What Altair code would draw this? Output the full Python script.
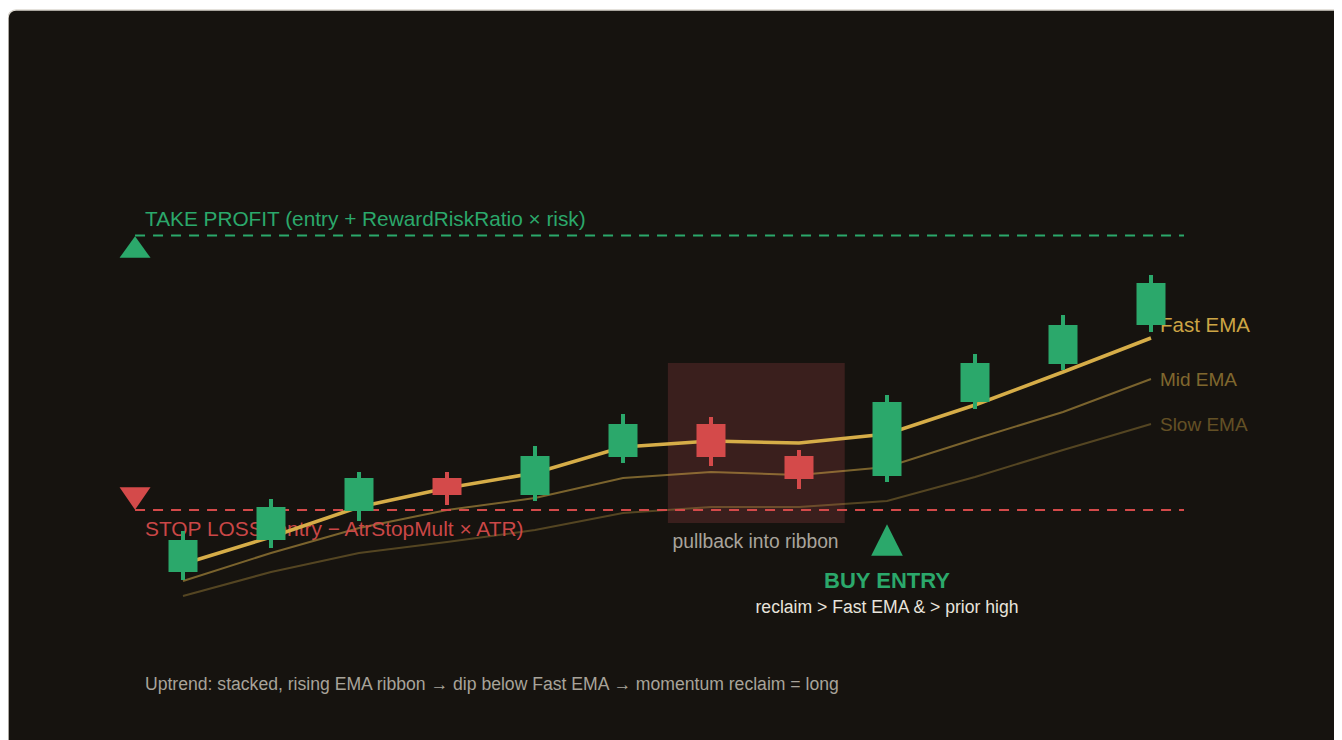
import altair as alt
import pandas as pd

# ---------------- data ----------------
candle_idx = list(range(12))
opens  = [102.8, 106.0, 108.9, 112.2, 110.5, 114.3, 117.6, 114.4, 112.4, 119.8, 123.6, 127.5]
highs  = [106.9, 110.1, 112.8, 112.8, 115.4, 118.6, 118.3, 115.0, 120.5, 124.6, 128.5, 132.5]
lows   = [102.0, 105.2, 107.9, 109.5, 109.9, 113.7, 113.4, 111.1, 111.8, 119.1, 123.0, 126.8]
closes = [106.0, 109.3, 112.2, 110.5, 114.4, 117.6, 114.3, 112.1, 119.8, 123.7, 127.5, 131.7]

fast_ema = [103.6, 106.3, 109.3, 111.2, 112.7, 115.3, 115.9, 115.7, 116.6, 119.5, 122.8, 126.2]
mid_ema  = [101.9, 104.7, 107.2, 109.0, 110.2, 112.2, 112.8, 112.5, 113.3, 116.1, 118.8, 122.1]
slow_ema = [100.4, 102.8, 104.7, 105.8, 107.0, 108.7, 109.3, 109.3, 109.9, 112.3, 115.0, 117.6]

take_profit = 136.45
stop_loss = 109.0
level_span = [-0.545, 11.375]

pullback_x = [5.51, 7.52]
pullback_y = [107.7, 123.7]

entry_idx = 8

tp_text = "TAKE PROFIT (entry + RewardRiskRatio × risk)"
sl_text = "STOP LOSS (entry − AtrStopMult × ATR)"
ema_names = ["Fast EMA", "Mid EMA", "Slow EMA"]
pullback_text = "pullback into ribbon"
buy_title = "BUY ENTRY"
buy_sub = "reclaim > Fast EMA & > prior high"
footer = "Uptrend: stacked, rising EMA ribbon → dip below Fast EMA → momentum reclaim = long"

# ---------------- styling ----------------
BG = "#16130f"
GREEN = "#2ba86b"
RED = "#d44a4a"
GOLD = "#d6ad48"
FONT = "Liberation Sans, Arial, Helvetica, sans-serif"

SVG_W, SVG_H = 1326, 732          # drawn page area
W, H = 1345, 745                  # card (view) size, clipped at the svg edge
PAD = {"left": 0, "top": 2, "right": SVG_W - W, "bottom": SVG_H - 2 - H}

PX_PER_IDX = 88.0
PX_PER_PRICE = 10.0
x_min = -(183 - 8) / PX_PER_IDX
x_max = x_min + W / PX_PER_IDX
y_max = 159.0
y_min = y_max - H / PX_PER_PRICE

xs = alt.Scale(domain=[x_min, x_max], nice=False, zero=False)
ys = alt.Scale(domain=[y_min, y_max], nice=False, zero=False)


def X(f):
    return alt.X(f, type="quantitative", scale=xs, axis=None)


def Y(f):
    return alt.Y(f, type="quantitative", scale=ys, axis=None)


candles = pd.DataFrame({"i": candle_idx, "open": opens, "high": highs,
                        "low": lows, "close": closes})
ema = pd.DataFrame({"i": candle_idx, "fast": fast_ema, "mid": mid_ema, "slow": slow_ema})
zone = pd.DataFrame({"x": [pullback_x[0]], "x2": [pullback_x[1]],
                     "y": [pullback_y[0]], "y2": [pullback_y[1]]})
levels = pd.DataFrame({"x": [level_span[0], level_span[0]], "x2": [level_span[1], level_span[1]],
                       "p": [take_profit, stop_loss], "kind": ["tp", "sl"]})

up = alt.datum.close >= alt.datum.open
candle_color = alt.condition(up, alt.value(GREEN), alt.value(RED))

zone_layer = alt.Chart(zone).mark_rect(color="#3a1f1d").encode(
    x=X("x"), x2=alt.X2("x2"), y=Y("y"), y2=alt.Y2("y2"))

slow_layer = alt.Chart(ema).mark_line(color=GOLD, opacity=0.33, strokeWidth=2).encode(
    x=X("i"), y=Y("slow"), order="i:Q")
mid_layer = alt.Chart(ema).mark_line(color=GOLD, opacity=0.52, strokeWidth=2).encode(
    x=X("i"), y=Y("mid"), order="i:Q")
fast_layer = alt.Chart(ema).mark_line(color=GOLD, strokeWidth=3.5).encode(
    x=X("i"), y=Y("fast"), order="i:Q")

tp_line = alt.Chart(levels).transform_filter(alt.datum.kind == "tp").mark_rule(
    color=GREEN, strokeDash=[10, 8], strokeWidth=2).encode(x=X("x"), x2=alt.X2("x2"), y=Y("p"))
sl_line = alt.Chart(levels).transform_filter(alt.datum.kind == "sl").mark_rule(
    color=RED, strokeDash=[10, 8], strokeWidth=2).encode(x=X("x"), x2=alt.X2("x2"), y=Y("p"))

wicks = alt.Chart(candles).mark_rule(strokeWidth=4).encode(
    x=X("i"), y=Y("low"), y2=alt.Y2("high"), color=candle_color)
bodies = alt.Chart(candles).mark_rule(strokeWidth=29).encode(
    x=X("i"), y=Y("open"), y2=alt.Y2("close"), color=candle_color)

# markers
tp_marker = alt.Chart(pd.DataFrame({"x": [level_span[0]], "y": [take_profit - 1.15]})).mark_point(
    shape="M0,-0.7L1,0.7L-1,0.7Z", filled=True, opacity=1, size=961, color=GREEN,
    strokeWidth=0).encode(x=X("x"), y=Y("y"))
sl_marker = alt.Chart(pd.DataFrame({"x": [level_span[0]], "y": [stop_loss + 1.15]})).mark_point(
    shape="M-1,-0.72L1,-0.72L0,0.72Z", filled=True, opacity=1, size=961, color=RED,
    strokeWidth=0).encode(x=X("x"), y=Y("y"))
buy_marker = alt.Chart(pd.DataFrame({"x": [entry_idx], "y": [106.0]})).mark_point(
    shape="M0,-1L1,1L-1,1Z", filled=True, opacity=1, size=1000, color=GREEN,
    strokeWidth=0).encode(x=X("x"), y=Y("y"))


def label(text, x, y, size, color, align="left", weight="normal", opacity=1.0):
    df = pd.DataFrame({"x": [x], "y": [y], "t": [text]})
    return alt.Chart(df).mark_text(
        align=align, baseline="alphabetic", font=FONT, fontSize=size,
        fontWeight=weight, color=color, opacity=opacity).encode(
        x=X("x"), y=Y("y"), text="t:N")


tp_label = label(tp_text, -0.432, 137.4, 20.8, GREEN)
sl_label = label(sl_text, -0.432, 106.4, 20.9, RED, opacity=0.95)
fast_label = label(ema_names[0], 11.102, 126.83, 20.5, GOLD, opacity=0.95)
mid_label = label(ema_names[1], 11.102, 121.4, 19, GOLD, opacity=0.55)
slow_label = label(ema_names[2], 11.102, 116.9, 19, GOLD, opacity=0.4)
pull_label = label(pullback_text, 6.506, 105.2, 19.3, "#a9a49c", align="center")
buy_label = label(buy_title, entry_idx, 101.23, 22, GREEN, align="center", weight="bold")
sub_label = label(buy_sub, entry_idx, 98.73, 17.6, "#e8e4dc", align="center")
foot_label = label(footer, -0.432, 91.0, 17.6, "#a8a39a")

chart = alt.layer(
    zone_layer, slow_layer, mid_layer, tp_line, sl_line, sl_label,
    fast_layer, mid_label, slow_label, fast_label, wicks, bodies,
    tp_marker, sl_marker, buy_marker, tp_label, pull_label, buy_label, sub_label, foot_label
).properties(
    width=W, height=H,
    padding=PAD,
    autosize=alt.AutoSizeParams(type="none"),
    background="#ffffff",
).configure_view(
    fill=BG, stroke="#dcd8d0", strokeWidth=1.5, cornerRadius=8
)

chart.save("out.html", embed_options={"renderer": "svg", "actions": False})
